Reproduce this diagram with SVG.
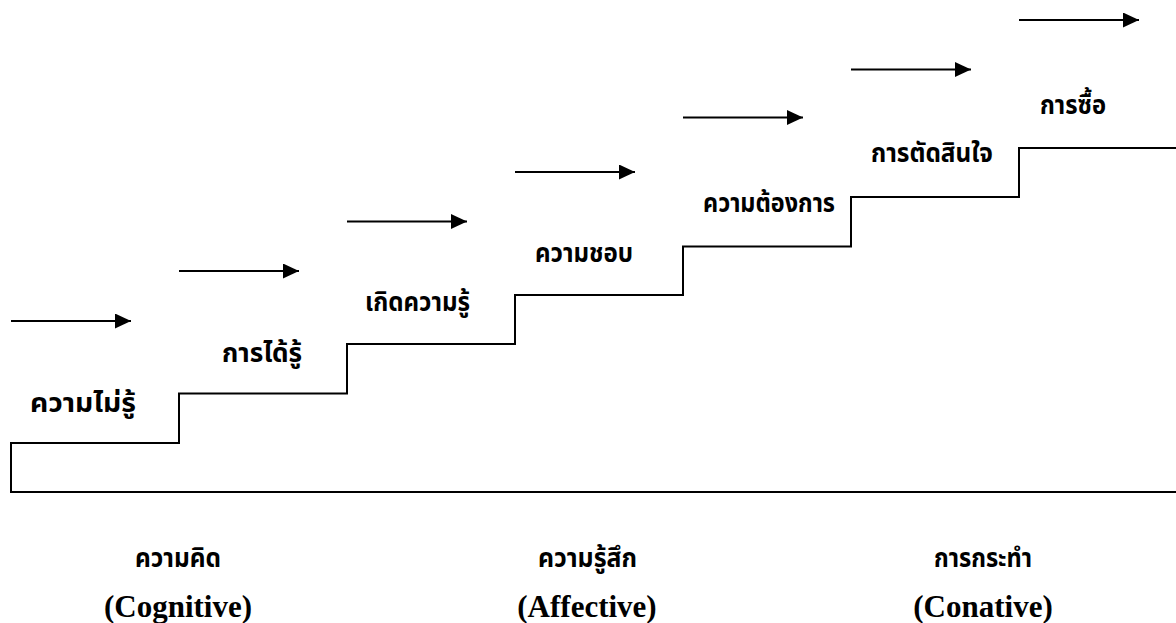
<svg xmlns="http://www.w3.org/2000/svg" width="1176" height="623" viewBox="0 0 1176 623">
<defs>
<style>
.stair{fill:none;stroke:#000;stroke-width:2}
.arr{stroke:#000;stroke-width:2;fill:none}
.th{font-family:"Liberation Serif","Noto Sans Thai","Noto Serif Thai","DejaVu Sans",serif;font-weight:bold;font-size:26px;fill:#000}
.en{font-family:"Liberation Serif","Times New Roman",serif;font-weight:bold;font-size:31px;fill:#000}
</style>
<marker id="ah" markerWidth="16" markerHeight="15" refX="16" refY="7.5" orient="auto" markerUnits="userSpaceOnUse">
<path d="M0,0 L16,7.5 L0,15 Z" fill="#000"/>
</marker>
</defs>
<rect width="1176" height="623" fill="#fff"/>
<g id="staircase">
<path class="stair" d="M1176,492 H11 V443 H179 V393.5 H347 V344 H515 V295 H683 V246.5 H851 V197 H1019 V148 H1176"/>
</g>
<g id="connectors">
<line class="arr" x1="11" y1="321" x2="131" y2="321" marker-end="url(#ah)"/>
<line class="arr" x1="179" y1="271" x2="299" y2="271" marker-end="url(#ah)"/>
<line class="arr" x1="347" y1="221.5" x2="467" y2="221.5" marker-end="url(#ah)"/>
<line class="arr" x1="515" y1="172" x2="635" y2="172" marker-end="url(#ah)"/>
<line class="arr" x1="683" y1="117.5" x2="803" y2="117.5" marker-end="url(#ah)"/>
<line class="arr" x1="851" y1="69.5" x2="971" y2="69.5" marker-end="url(#ah)"/>
<line class="arr" x1="1019" y1="20" x2="1139" y2="20" marker-end="url(#ah)"/>
</g>
<g id="step1"><text class="th" x="30" y="412" textLength="106" lengthAdjust="spacingAndGlyphs">ความไม่รู้</text></g>
<g id="step2"><text class="th" x="222" y="362" textLength="80" lengthAdjust="spacingAndGlyphs">การได้รู้</text></g>
<g id="step3"><text class="th" x="365" y="311" textLength="105" lengthAdjust="spacingAndGlyphs">เกิดความรู้</text></g>
<g id="step4"><text class="th" x="535" y="262" textLength="98" lengthAdjust="spacingAndGlyphs">ความชอบ</text></g>
<g id="step5"><text class="th" x="703" y="212" textLength="132" lengthAdjust="spacingAndGlyphs">ความต้องการ</text></g>
<g id="step6"><text class="th" x="871" y="162" textLength="122" lengthAdjust="spacingAndGlyphs">การตัดสินใจ</text></g>
<g id="step7"><text class="th" x="1040" y="114" textLength="66" lengthAdjust="spacingAndGlyphs">การซื้อ</text></g>
<g id="cat1">
<text class="th" x="135" y="567" textLength="86" lengthAdjust="spacingAndGlyphs">ความคิด</text>
<text class="en" x="178" y="617" text-anchor="middle">(Cognitive)</text>
</g>
<g id="cat2">
<text class="th" x="538" y="567" textLength="99" lengthAdjust="spacingAndGlyphs">ความรู้สึก</text>
<text class="en" x="587" y="617" text-anchor="middle">(Affective)</text>
</g>
<g id="cat3">
<text class="th" x="934" y="567" textLength="98" lengthAdjust="spacingAndGlyphs">การกระทำ</text>
<text class="en" x="983" y="617" text-anchor="middle">(Conative)</text>
</g>
</svg>
